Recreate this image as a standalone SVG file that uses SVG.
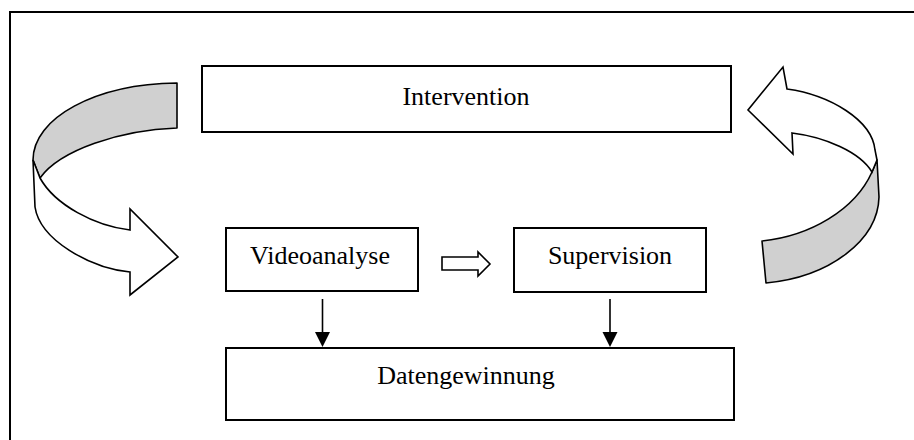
<svg xmlns="http://www.w3.org/2000/svg" width="914" height="440" viewBox="0 0 914 440">
  <style>
    .box { fill: #ffffff; stroke: #000000; stroke-width: 2; }
    .lbl { font-family: "Liberation Serif", "Times New Roman", serif; font-size: 26px; fill: #000000; text-anchor: middle; }
    .ribbon-back { fill: #d0d0d0; stroke: #000000; stroke-width: 1.6; stroke-linejoin: round; }
    .ribbon-front { fill: #ffffff; stroke: #000000; stroke-width: 1.6; stroke-linejoin: miter; }
    .line { stroke: #000000; stroke-width: 1.6; fill: none; }
    .head { fill: #000000; stroke: none; }
    .block { fill: #ffffff; stroke: #000000; stroke-width: 1.6; }
  </style>

  <rect width="914" height="440" fill="#ffffff"/>

  <!-- outer frame (open to the right and bottom) -->
  <path d="M10,440 L10,12 L914,12" fill="none" stroke="#000000" stroke-width="2"/>

  <!-- curved cycle arrows -->
  <g id="cycle-left">
    <path class="ribbon-back" d="M177,83 C95,84 33,118 33,160 L40,178 C60,150 120,130 177,128 Z"/>
    <path class="ribbon-front" d="M40,178 L33,160 L35,207 C40,240 90,268 130,272 L130,295 L178,257 L130,209 L130,230 C95,226 55,205 40,178 Z"/>
  </g>
  <g id="cycle-right">
    <path class="ribbon-back" d="M877,160 L879,197 C878,240 830,277 766,283 L762,241 C810,236 855,210 872,172 Z"/>
    <path class="ribbon-front" d="M787,89 C830,95 872,120 875,150 L877,160 L872,172 C860,152 825,137 792,133 L793,154 L748,110 L783,67 Z"/>
  </g>

  <!-- nodes -->
  <g id="intervention">
    <rect class="box" x="202" y="66" width="529" height="66"/>
    <text class="lbl" x="466" y="105">Intervention</text>
  </g>
  <g id="videoanalyse">
    <rect class="box" x="226" y="228" width="192" height="63"/>
    <text class="lbl" x="320" y="264">Videoanalyse</text>
  </g>
  <g id="supervision">
    <rect class="box" x="514" y="228" width="192" height="64"/>
    <text class="lbl" x="610" y="264">Supervision</text>
  </g>
  <g id="datengewinnung">
    <rect class="box" x="226" y="348" width="508" height="72"/>
    <text class="lbl" x="466" y="384">Datengewinnung</text>
  </g>

  <!-- connectors -->
  <g id="connectors">
    <path class="block" d="M442,257 L478,257 L478,252 L490,264 L478,276 L478,270 L442,270 Z"/>
    <line class="line" x1="322.5" y1="299" x2="322.5" y2="334"/>
    <polygon class="head" points="315,332 330,332 322.5,347"/>
    <line class="line" x1="610" y1="299" x2="610" y2="334"/>
    <polygon class="head" points="602.5,332 617.5,332 610,347"/>
  </g>
</svg>
